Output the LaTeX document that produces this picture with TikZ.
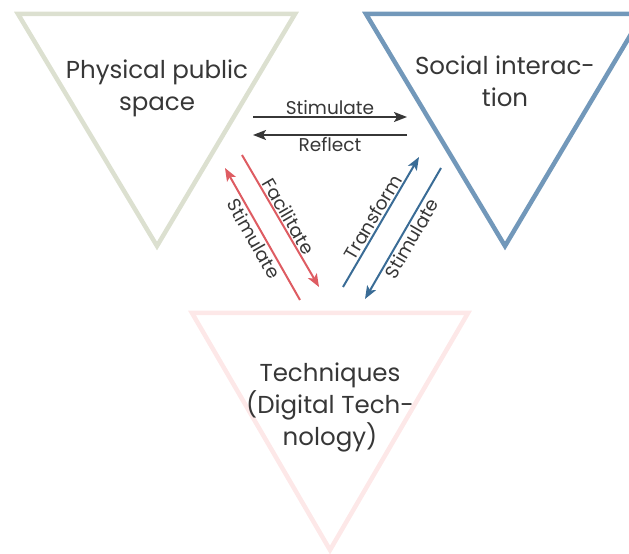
\documentclass[tikz,border=0pt]{standalone}
\usepackage{fontspec}
\setmainfont{Poppins}
\usepackage{tikz}
\usetikzlibrary{arrows.meta}
\usepackage{color}
\definecolor{sage}{RGB}{220, 224, 208}
\definecolor{steel}{RGB}{114, 152, 186}
\definecolor{blush}{RGB}{253, 232, 232}
\definecolor{rosered}{RGB}{222, 92, 98}
\definecolor{deepblue}{RGB}{58, 108, 150}
\definecolor{ink}{RGB}{55, 55, 55}
\begin{document}
\begin{tikzpicture}[x=1pt, y=1pt,
            tri/.style={line width=4.5pt, line join=miter},
            conn/.style={line width=2pt, -{Stealth[length=13pt, width=10pt, inset=3pt]}},
            big/.style={text=ink, align=center, font=\fontsize{24.5}{32}\selectfont},
            lbl/.style={text=ink, font=\fontsize{18.5}{20}\selectfont, sloped, inner sep=1.5pt}]
            \useasboundingbox (0,0) rectangle (629,554);
            \clip (0,0) rectangle (629,554);
            % the three triangles
            \draw[tri, sage]  ( 18,540) -- (295,540) -- (157,308) -- cycle;
            \draw[tri, steel] (366,540) -- (643,540) -- (505,308) -- cycle;
            \draw[tri, blush] (192,241) -- (468,241) -- (330,  4) -- cycle;
            \node[big] (space)  at (157,466) {Physical public\\space};
            \node[big] (social) at (505,473) {Social interac-\\tion};
            \node[big] (tech)   at (330,147) {Techniques\\(Digital Tech-\\nology)};
            % end points of the connectors
            \coordinate (sR1) at (253,437); \coordinate (sR2) at (407,437);
            \coordinate (rR1) at (407,419); \coordinate (rR2) at (253,419);
            \coordinate (fA1) at (242,399); \coordinate (fA2) at (319,267);
            \coordinate (sA1) at (300,254); \coordinate (sA2) at (225,386);
            \coordinate (tB1) at (343,267); \coordinate (tB2) at (419,397);
            \coordinate (sB1) at (441,386); \coordinate (sB2) at (365,255);
            \draw[conn, ink] (sR1) -- node[lbl, above] {Stimulate} (sR2);
            \draw[conn, ink] (rR1) -- node[lbl, below] {Reflect} (rR2);
            \draw[conn, rosered] (fA1) -- node[lbl, above] {Facilitate} (fA2);
            \draw[conn, rosered] (sA1) -- node[lbl, below] {Stimulate} (sA2);
            \draw[conn, deepblue] (tB1) -- node[lbl, above] {Transform} (tB2);
            \draw[conn, deepblue] (sB1) -- node[lbl, below] {Stimulate} (sB2);
\end{tikzpicture}
\end{document}
